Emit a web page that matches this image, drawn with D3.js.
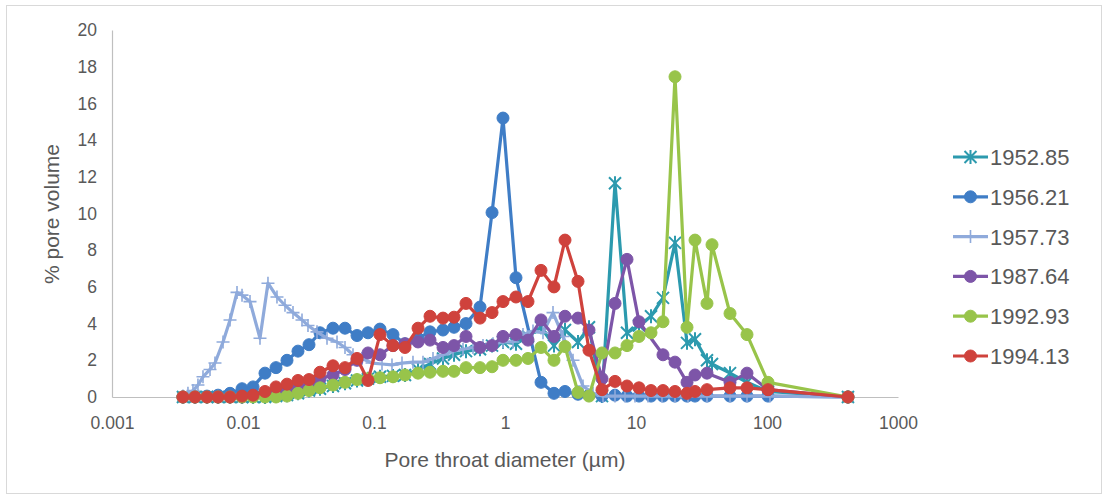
<!DOCTYPE html>
<html><head><meta charset="utf-8">
<script src="https://cdn.jsdelivr.net/npm/d3@7"></script>
<style>body{margin:0;background:#fff;} text{font-family:"Liberation Sans",Arial,sans-serif;fill:#595959;}</style>
</head><body><svg id="c" width="1108" height="499"></svg>
<script>
// Shared pore-throat diameters (µm) for most samples
const diameters = [0.00348,0.0043,0.00531,0.00645,0.00796,0.00983,0.01193,0.01472,0.01786,0.02167,0.02629,0.0319,0.03871,0.04864,0.06007,0.07419,0.09,0.1111,0.1396,0.1724,0.2168,0.2677,0.3363,0.4081,0.5039,0.6445,0.7963,0.9654,1.213,1.498,1.883,2.366,2.871,3.608,4.377,5.502,6.914,8.537,10.54,13.02,16.07,19.85,24.51,28.21,34.83,38.04,52.2,70.36,101.8,415];
// Diameters for sample 1957.73 (denser measurement)
const diameters1957 = [0.00348,0.0038,0.00415,0.00453,0.00495,0.0056,0.00611,0.00704,0.00796,0.009,0.00983,0.01131,0.01348,0.01551,0.01817,0.02092,0.02408,0.02821,0.03134,0.03672,0.04378,0.0522,0.06007,0.06913,0.08099,0.09654,0.1151,0.1372,0.1636,0.1984,0.2366,0.2821,0.3363,0.401,0.478,0.5697,0.6794,0.81,0.9654,1.151,1.372,1.636,1.95,2.325,2.772,3.304,3.939,4.697,5.6,6.914,8.241,9.826,12.35,15.79,19.85,24.94,34.83,52.2,70.36,105.4,415];

const s1952 = [0,0,0,0,0,0,0,0,0.05,0.1,0.2,0.35,0.45,0.6,0.75,0.9,1.0,1.1,1.15,1.2,1.5,1.8,2.1,2.3,2.5,2.6,2.8,3.0,2.9,3.3,3.8,2.8,3.65,3.0,3.8,0.05,11.65,3.5,3.9,4.4,5.4,8.4,2.95,3.15,2.0,1.8,1.3,0.8,0.3,0];
const s1956 = [0,0,0.05,0.1,0.2,0.45,0.55,1.3,1.6,2.0,2.5,2.85,3.5,3.75,3.75,3.35,3.5,3.7,3.4,2.9,3.2,3.55,3.65,3.8,4.0,4.9,10.05,15.2,6.5,null,0.8,0.2,0.3,0.15,0.1,0.05,0.1,0.05,0.05,0.05,0.05,0.05,0.05,0.05,0.05,null,0.05,0.05,0.05,0];
const s1957 = [0.05,0.2,0.35,0.65,1.1,1.5,1.85,3.0,4.2,5.7,5.55,5.2,3.2,6.2,5.45,5.0,4.6,4.2,3.9,3.55,3.2,3.0,2.7,2.3,2.1,1.85,1.8,1.75,1.85,1.9,1.9,2.1,2.3,2.5,2.6,2.7,2.8,2.9,3.0,3.0,3.4,3.6,3.5,4.6,3.3,2.0,0.6,0.2,0.05,0.05,0.05,0.05,0.05,0.05,0.05,0.05,0.05,0.05,0.05,0.05,0];
const s1987 = [0,0,0,0,0,0,0.05,0.1,0.2,0.35,0.5,0.7,1.0,1.2,1.5,2.0,2.4,2.3,2.8,2.9,3.0,3.1,2.7,2.8,3.3,2.7,2.8,3.3,3.4,3.1,4.2,3.3,4.4,4.3,3.65,1.0,5.1,7.5,4.1,null,2.3,1.9,0.8,1.2,1.3,null,0.8,1.3,0.4,0];
const s1992 = [0,0,0,0,0,0,0,0,0,0.05,0.2,0.35,0.5,0.65,0.8,0.95,1.0,1.05,1.1,1.2,1.3,1.35,1.4,1.4,1.6,1.6,1.65,2.0,2.0,2.1,2.7,2.0,2.75,0.25,0.05,2.4,2.4,2.8,3.3,3.5,4.1,17.45,3.8,8.55,5.1,8.3,4.55,3.4,0.8,0];
const s1994 = [0,0,0,0,0,0.05,0.1,0.3,0.55,0.7,0.9,0.95,1.35,1.7,1.6,2.1,0.9,3.4,2.8,2.7,3.75,4.4,4.3,4.35,5.1,4.3,4.6,5.2,5.45,5.2,6.9,6.0,8.55,6.3,2.55,0.4,0.85,0.6,0.5,0.35,0.35,0.3,0.2,0.3,0.4,null,0.5,0.5,0.4,0];

const seriesNames = ["1952.85","1956.21","1957.73","1987.64","1992.93","1994.13"];
const xTicks = [0.001,0.01,0.1,1,10,100,1000];
const xTickLabels = ["0.001","0.01","0.1","1","10","100","1000"];
const yTicks = [0,2,4,6,8,10,12,14,16,18,20];

const series = [
  {name:seriesNames[0], xs:diameters, ys:s1952, color:"#2C9AAE", marker:"star"},
  {name:seriesNames[1], xs:diameters, ys:s1956, color:"#3F7DC6", marker:"circle"},
  {name:seriesNames[2], xs:diameters1957, ys:s1957, color:"#8FAADB", marker:"plus"},
  {name:seriesNames[3], xs:diameters, ys:s1987, color:"#7D55A8", marker:"circle"},
  {name:seriesNames[4], xs:diameters, ys:s1992, color:"#98C44A", marker:"circle"},
  {name:seriesNames[5], xs:diameters, ys:s1994, color:"#CF423C", marker:"circle"}
];

const svg = d3.select("#c");
svg.append("rect").attr("x",6.5).attr("y",5.5).attr("width",1095).attr("height",488)
  .attr("fill","#fff").attr("stroke","#D9D9D9");

const x = d3.scaleLog().domain([0.001,1000]).range([112,898]);
const y = d3.scaleLinear().domain([0,20]).range([397,30]);

const FONT = "Liberation Sans, Arial, sans-serif";
// axes
const xAxis = d3.axisBottom(x).tickValues(xTicks).tickFormat((d,i)=>xTickLabels[i]).tickSize(0).tickPadding(20);
const gx = svg.append("g").attr("transform","translate(0,397)").call(xAxis);
gx.select(".domain").attr("stroke","#BFBFBF").attr("stroke-width",1.2);
gx.selectAll("text").attr("font-size",17.5).attr("fill","#595959").attr("font-family",FONT);

const yAxis = d3.axisLeft(y).tickValues(yTicks).tickSize(0).tickPadding(15);
const gy = svg.append("g").attr("transform","translate(112,0)").call(yAxis);
gy.select(".domain").attr("stroke","#BFBFBF").attr("stroke-width",1.2);
gy.selectAll("text").attr("font-size",17.5).attr("fill","#595959").attr("font-family",FONT);

svg.append("text").attr("x",505).attr("y",467).attr("text-anchor","middle").attr("font-size",21).text("Pore throat diameter (µm)");
svg.append("text").attr("transform","translate(59,214) rotate(-90)").attr("text-anchor","middle").attr("font-size",21).text("% pore volume");

function drawMarker(g, type, cx, cy, color){
  if(type==="circle"){
    g.append("circle").attr("cx",cx).attr("cy",cy).attr("r",6).attr("fill",color).attr("stroke",color);
  } else if(type==="plus"){
    const s=6.5;
    g.append("path").attr("d",`M${cx-s},${cy}H${cx+s}M${cx},${cy-s}V${cy+s}`).attr("stroke",color).attr("stroke-width",1.6).attr("fill","none");
  } else {
    const s=6, t=7;
    g.append("path").attr("d",`M${cx-s},${cy-s}L${cx+s},${cy+s}M${cx-s},${cy+s}L${cx+s},${cy-s}M${cx},${cy-t}V${cy+t}`)
      .attr("stroke",color).attr("stroke-width",2).attr("fill","none");
  }
}

const line = d3.line().x(d=>x(d[0])).y(d=>y(d[1]));
series.forEach(s=>{
  const pts = s.xs.map((d,i)=>[d,s.ys[i]]).filter(p=>p[1]!==null && p[1]!==undefined);
  const g = svg.append("g");
  g.append("path").attr("d",line(pts)).attr("fill","none").attr("stroke",s.color).attr("stroke-width",3.2).attr("stroke-linejoin","round");
  pts.forEach(p=>drawMarker(g,s.marker,x(p[0]),y(p[1]),s.color));
});

// legend
const lg = svg.append("g");
series.forEach((s,i)=>{
  const ly = 157 + i*39.8;
  lg.append("line").attr("x1",953).attr("x2",988).attr("y1",ly).attr("y2",ly).attr("stroke",s.color).attr("stroke-width",3.2);
  drawMarker(lg,s.marker,970.5,ly,s.color);
  lg.append("text").attr("x",990).attr("y",ly+8).attr("font-size",22).text(s.name);
});
</script></body></html>
